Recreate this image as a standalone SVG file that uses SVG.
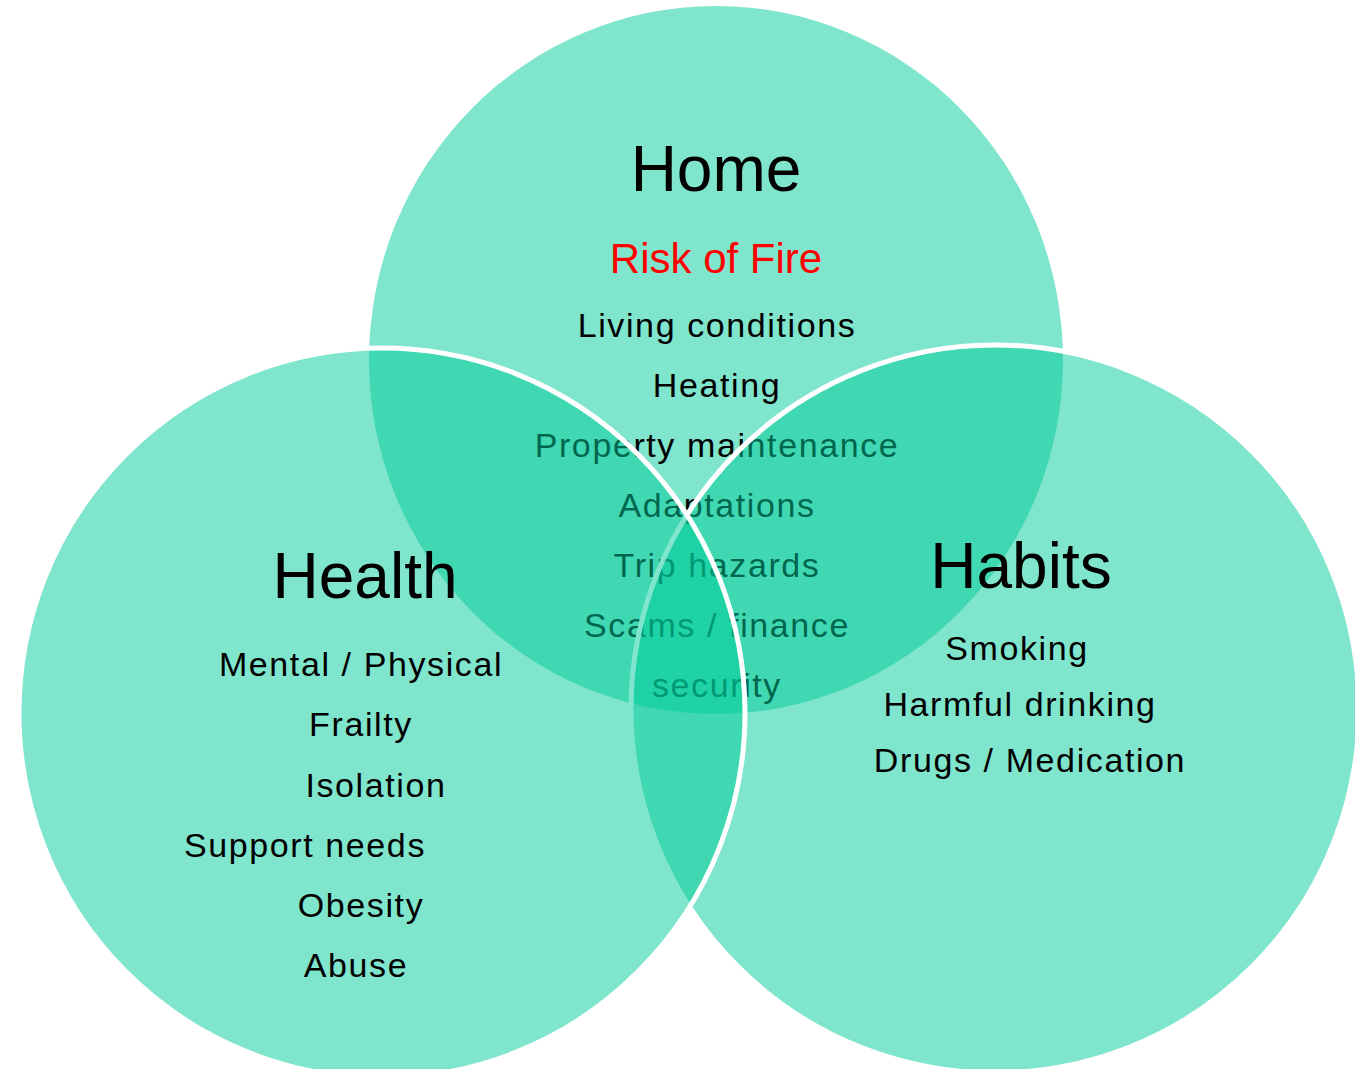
<svg xmlns="http://www.w3.org/2000/svg" width="1355" height="1069" viewBox="0 0 1355 1069">
<style>
.c{fill:#00cc99;fill-opacity:.5}
.s{stroke:#fff;stroke-width:5}
text{font-family:"Liberation Sans",Arial,Helvetica,sans-serif;text-anchor:middle;fill:#000}
.t{font-size:64px}
.i{font-size:34px;letter-spacing:1.6px}
.r{fill:#ff0000;font-size:42px}
</style>
<rect width="1355" height="1069" fill="#fff"/>
<g id="home">
<ellipse class="c" cx="716" cy="360" rx="347" ry="354"/>
<text class="t" x="716" y="191">Home</text>
<text class="r" x="716" y="273">Risk of Fire</text>
<text class="i" x="717" y="337">Living conditions</text>
<text class="i" x="717" y="397">Heating</text>
<text class="i" x="717" y="457">Property maintenance</text>
<text class="i" x="717" y="517">Adaptations</text>
<text class="i" x="717" y="577">Trip hazards</text>
<text class="i" x="717" y="637">Scams / finance</text>
<text class="i" x="717" y="697">security</text>
</g>
<g id="habits">
<ellipse class="c s" cx="995" cy="709" rx="364" ry="364"/>
<text class="t" x="1021" y="588">Habits</text>
<text class="i" x="1017" y="660">Smoking</text>
<text class="i" x="1020" y="716">Harmful drinking</text>
<text class="i" x="1030" y="772">Drugs / Medication</text>
</g>
<g id="health">
<ellipse class="c s" cx="382" cy="713" rx="363" ry="365"/>
<text class="t" x="365" y="598">Health</text>
<text class="i" x="361" y="676">Mental / Physical</text>
<text class="i" x="361" y="736">Frailty</text>
<text class="i" x="376" y="797">Isolation</text>
<text class="i" x="305" y="857">Support needs</text>
<text class="i" x="361" y="917">Obesity</text>
<text class="i" x="356" y="977">Abuse</text>
</g>
<g id="connectors"/>
</svg>
